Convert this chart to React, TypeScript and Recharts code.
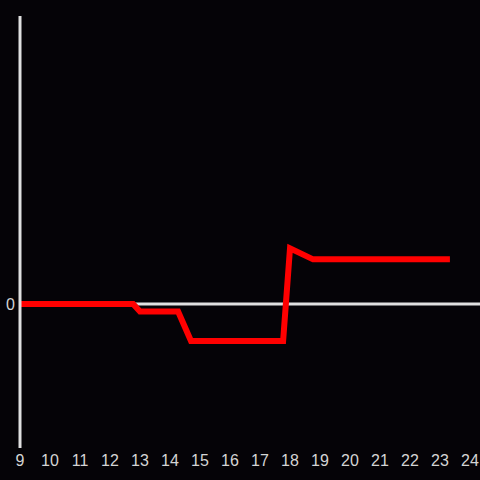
import { LineChart, Line, XAxis, YAxis, ReferenceLine } from 'recharts';

// hours of day and values
const hours = [9, 12.77, 13.0, 14.27, 14.7, 17.77, 18.0, 18.77, 23.33];
const values = [0, 0, -0.052, -0.052, -0.257, -0.257, 0.387, 0.31, 0.31];
const xTicks = [9, 10, 11, 12, 13, 14, 15, 16, 17, 18, 19, 20, 21, 22, 23, 24];
const yTicks = [0];

const data = hours.map((h, i) => ({ hour: h, value: values[i] }));

const bg = '#050307';
const axisColor = '#e0e0e0';
const textColor = '#d4d4d4';

export default function App() {
  return (
    <div
      style={{
        position: 'fixed',
        left: 0,
        top: 0,
        width: 480,
        height: 480,
        background: bg,
        fontFamily: '"Liberation Sans", Arial, sans-serif',
      }}
    >
      <LineChart width={480} height={480} data={data} margin={{ top: 16, right: 0, left: 0, bottom: 0 }}>
        <XAxis
          dataKey="hour"
          type="number"
          domain={[9, 24.333]}
          ticks={xTicks}
          axisLine={false}
          tickLine={false}
          tickSize={0}
          tickMargin={7}
          height={32}
          fontSize={16}
          tick={{ fill: textColor, fontSize: 16 }}
          interval={0}
        />
        <YAxis
          type="number"
          domain={[-1, 2]}
          ticks={yTicks}
          width={20}
          axisLine={{ stroke: axisColor, strokeWidth: 3 }}
          tickLine={false}
          tickSize={0}
          tickMargin={5}
          fontSize={16}
          tick={{ fill: textColor, fontSize: 16 }}
        />
        <ReferenceLine y={0} stroke={axisColor} strokeWidth={3} ifOverflow="extendDomain" />
        <Line
          type="linear"
          dataKey="value"
          stroke="#ff0000"
          strokeWidth={6}
          dot={false}
          isAnimationActive={false}
        />
      </LineChart>
    </div>
  );
}
